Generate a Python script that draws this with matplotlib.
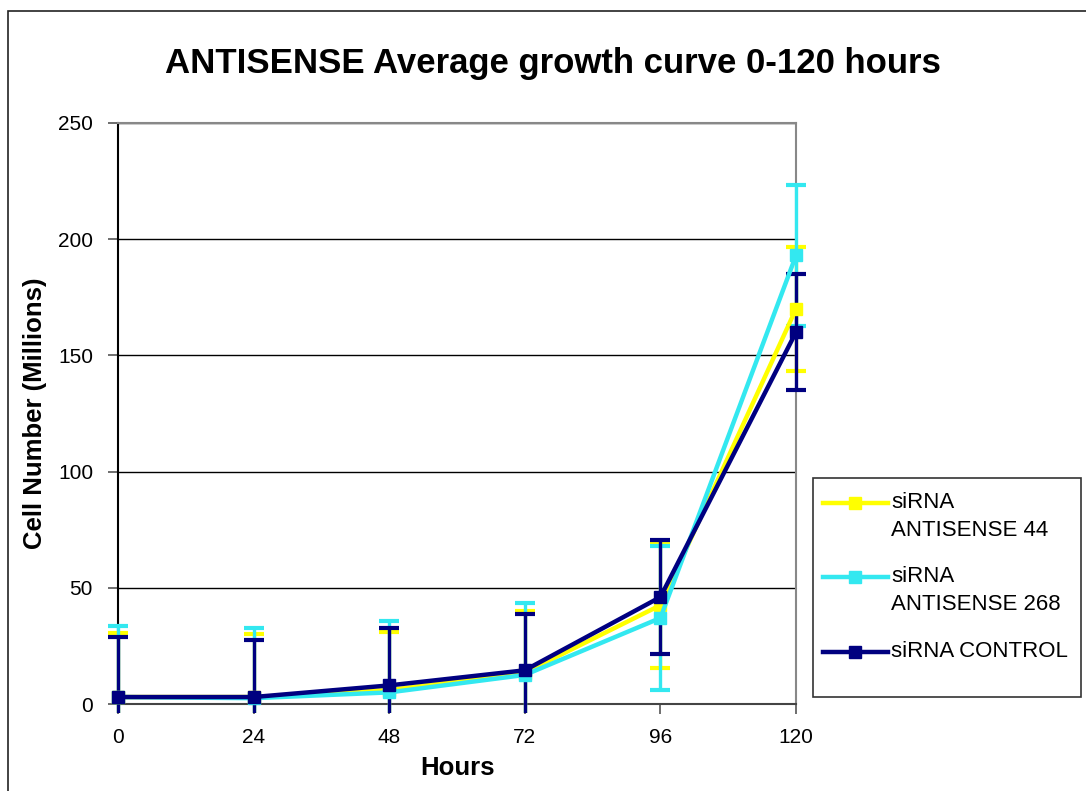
import matplotlib
matplotlib.use("Agg")
import matplotlib.pyplot as plt
from matplotlib.patches import Rectangle
from matplotlib.lines import Line2D

plt.rcParams['font.family'] = ['Liberation Sans', 'DejaVu Sans']

hours = [0, 24, 48, 72, 96, 120]

as44 = [3, 3, 6, 13.5, 42.5, 170]
as44_err = [27.7, 27, 25, 26.5, 27, 26.5]

as268 = [3, 2.5, 5, 12.5, 37, 193]
as268_err = [30.7, 30.2, 30.8, 31, 31, 30.5]

control = [3, 3, 8, 14.5, 46, 160]
control_err = [25.8, 24.5, 24.8, 24.2, 24.5, 25]

series_labels = ["siRNA\nANTISENSE 44", "siRNA\nANTISENSE 268", "siRNA CONTROL"]
series_colors = ["#FFFF00", "#33E8F0", "#000080"]

y_ticks = [0, 50, 100, 150, 200, 250]

W, H = 1086, 791
fig = plt.figure(figsize=(W / 100, H / 100), dpi=100)

# outer chart border
fig.add_artist(Rectangle((8 / W, -0.05), 1.2, (H - 11) / H + 0.05,
                         transform=fig.transFigure, fill=False,
                         edgecolor="#222222", linewidth=1.2))

ax = fig.add_axes([118 / W, 1 - 704 / H, (796 - 118) / W, (704 - 123) / H])

# error bars may poke a little below the floor and out past the side edges
clip_rect = Rectangle((-0.05, -9 / 581), 1.1, 1.2, transform=ax.transAxes,
                      fill=False, visible=False)
ax.add_patch(clip_rect)

for vals, errs, col in zip([as44, as268, control],
                           [as44_err, as268_err, control_err],
                           series_colors):
    line, caps, bars = ax.errorbar(hours, vals, yerr=errs, color=col,
                                   linewidth=3.2, marker="s", markersize=8,
                                   elinewidth=2.4, capsize=7.2, capthick=3,
                                   zorder=3)
    line.set_clip_on(False)
    for art in list(caps) + list(bars):
        art.set_clip_path(clip_rect)

ax.set_xlim(0, 120)
ax.set_ylim(0, 250)
ax.set_xticks(hours)
ax.set_yticks(y_ticks)
ax.tick_params(axis="both", labelsize=15, length=7, width=1.2,
               color="#555555")
ax.tick_params(axis="x", pad=10)
ax.tick_params(axis="y", pad=11)
ax.yaxis.grid(True, color="black", linewidth=1)
ax.set_axisbelow(True)
ax.spines["left"].set_color("black")
ax.spines["left"].set_linewidth(1.5)
ax.spines["bottom"].set_color("#444444")
ax.spines["bottom"].set_linewidth(1.5)
ax.spines["top"].set_color("#888888")
ax.spines["top"].set_linewidth(1.5)
ax.spines["right"].set_color("#888888")
ax.spines["right"].set_linewidth(1.5)

fig.text(553 / W, 1 - 63 / H, "ANTISENSE Average growth curve 0-120 hours",
         ha="center", va="center", fontsize=25, fontweight="bold")
fig.text(457 / W, 1 - 768 / H, "Hours", ha="center", va="center",
         fontsize=18.5, fontweight="bold")
fig.text(35 / W, 1 - 413 / H, "Cell Number (Millions)", ha="center",
         va="center", rotation=90, fontsize=18.5, fontweight="bold")

# legend box
lx0, ly0, lx1, ly1 = 813, 478, 1081, 697
fig.add_artist(Rectangle((lx0 / W, 1 - ly1 / H), (lx1 - lx0) / W,
                         (ly1 - ly0) / H, transform=fig.transFigure,
                         fill=False, edgecolor="#333333", linewidth=1.2))
entry_y = [503, 577, 652]
for lab, col, ey in zip(series_labels, series_colors, entry_y):
    yy = 1 - ey / H
    fig.add_artist(Line2D([823 / W, 888 / W], [yy, yy],
                          transform=fig.transFigure, color=col,
                          linewidth=3.2))
    fig.add_artist(Line2D([855 / W], [yy], transform=fig.transFigure,
                          color=col, marker="s", markersize=8))
    fig.text(891 / W, yy + 11 / H, lab, ha="left", va="top", fontsize=16,
             linespacing=1.45)

fig.savefig("out.png", dpi=100)
